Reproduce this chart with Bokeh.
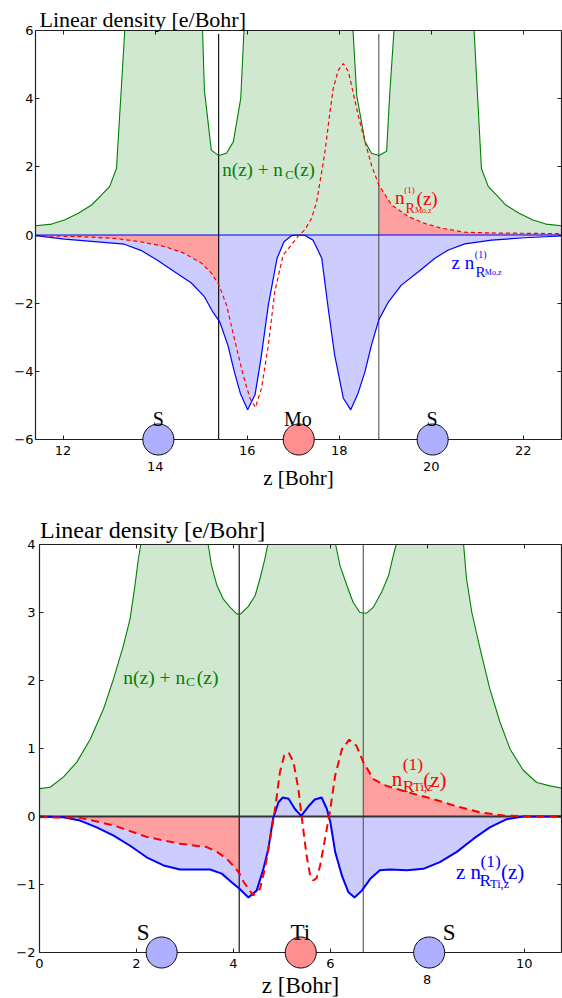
import numpy as np
from bokeh.plotting import figure
from bokeh.layouts import column
from bokeh.models import Label, PolyAnnotation, FixedTicker, LinearAxis, Range1d
from bokeh.embed import file_html
from bokeh.resources import INLINE

SERIF = "Liberation Serif"
SANS = "DejaVu Sans"

# ---------------- top panel (Mo) data ----------------
top_green_z = [11.40, 11.75, 12.03, 12.33, 12.62, 12.83, 13.01, 13.16, 13.34, 14.07, 15.03,
               15.07, 15.22, 15.38, 15.55, 15.70, 15.86, 15.93, 17.12, 18.30, 18.38, 18.56,
               18.70, 18.86, 19.03, 19.10, 19.19, 20.03, 20.93, 21.09, 21.24, 21.42, 21.62,
               21.91, 22.21, 22.49, 22.83]
top_green_v = [0.27, 0.32, 0.44, 0.64, 0.88, 1.17, 1.42, 1.95, 6.1, 12.0, 6.1,
               4.25, 2.49, 2.33, 2.40, 2.74, 4.01, 6.1, 12.0, 6.1, 4.10, 2.74,
               2.40, 2.33, 2.46, 4.20, 6.1, 12.0, 6.1, 1.95, 1.42, 1.17, 0.88,
               0.64, 0.44, 0.32, 0.27]

top_blue_z = [11.40, 12.03, 12.75, 13.33, 13.69, 14.05, 14.42, 14.78, 15.07, 15.25, 15.40,
              15.58, 15.72, 15.85, 16.01, 16.17, 16.30, 16.46, 16.65, 16.80, 16.96, 17.12,
              17.25, 17.43, 17.62, 17.76, 17.90, 18.09, 18.25, 18.41, 18.56, 18.70, 18.86,
              19.07, 19.35, 19.72, 20.08, 20.37, 20.73, 21.31, 22.03, 22.83]
top_blue_v = [-0.02, -0.12, -0.20, -0.27, -0.45, -0.74, -1.08, -1.40, -1.81, -2.25, -2.54,
              -3.23, -4.01, -4.64, -5.13, -4.69, -3.62, -2.05, -0.68, -0.20, -0.02, 0.0,
              -0.01, -0.15, -0.68, -2.15, -3.52, -4.79, -5.13, -4.64, -4.01, -3.23, -2.49,
              -1.96, -1.47, -1.08, -0.68, -0.44, -0.26, -0.15, -0.08, -0.03]

top_red_z = [11.40, 12.40, 13.12, 13.69, 14.21, 14.64, 15.01, 15.22, 15.38, 15.55, 15.72,
             15.91, 16.06, 16.18, 16.31, 16.46, 16.60, 16.78, 16.96, 17.13, 17.25, 17.40,
             17.51, 17.62, 17.69, 17.80, 17.87, 17.98, 18.09, 18.20, 18.30, 18.41, 18.56,
             18.70, 18.86, 19.14, 19.50, 19.86, 20.22, 20.73, 21.31, 22.83]
top_red_v = [-0.02, -0.05, -0.10, -0.20, -0.34, -0.54, -0.83, -1.12, -1.45, -2.05, -3.03,
             -4.10, -4.79, -5.06, -4.50, -3.23, -1.66, -0.59, -0.29, 0.0, 0.15, 0.49,
             0.98, 1.86, 2.44, 3.62, 4.30, 4.84, 5.03, 4.79, 4.20, 3.52, 2.74,
             2.05, 1.47, 0.88, 0.54, 0.34, 0.20, 0.08, 0.06, 0.04]

top_bounds = [15.38, 18.86]
top_atoms = ["S", "Mo", "S"]
top_atom_z = [14.07, 17.12, 20.03]
top_atom_label_z = [14.07, 17.10, 20.02]
top_xticks = [12, 14, 16, 18, 20, 22]
top_xticks_low = [14, 20]
top_yticks = [-6, -4, -2, 0, 2, 4, 6]

# ---------------- bottom panel (Ti) data ----------------
bot_green_z = [0.00, 0.22, 0.49, 0.77, 1.05, 1.32, 1.53, 1.73, 1.87, 1.97, 2.04, 2.09, 2.52,
               3.48, 3.55, 3.66, 3.79, 3.93, 4.07, 4.15, 4.31, 4.45, 4.55, 4.65, 4.71, 5.39,
               6.11, 6.20, 6.34, 6.47, 6.61, 6.75, 6.89, 7.06, 7.20, 7.30, 7.36, 8.04,
               8.75, 8.81, 8.92, 9.09, 9.29, 9.50, 9.71, 9.98, 10.26, 10.53, 10.77]
bot_green_v = [0.41, 0.43, 0.58, 0.80, 1.14, 1.58, 2.03, 2.51, 2.91, 3.40, 3.79, 4.10, 8.0,
               4.10, 3.69, 3.40, 3.20, 3.08, 2.98, 2.98, 3.09, 3.25, 3.50, 3.79, 4.10, 8.0,
               4.10, 3.69, 3.40, 3.15, 3.00, 2.99, 3.08, 3.30, 3.54, 3.84, 4.10, 8.0,
               4.10, 3.50, 3.00, 2.47, 1.88, 1.39, 0.99, 0.68, 0.50, 0.45, 0.42]

bot_blue_z = [0.00, 0.49, 0.84, 1.18, 1.53, 1.87, 2.21, 2.56, 2.90, 3.25, 3.52, 3.76, 3.97,
              4.12, 4.31, 4.48, 4.62, 4.72, 4.82, 4.93, 5.02, 5.14, 5.27, 5.40, 5.55, 5.68,
              5.82, 5.93, 6.00, 6.10, 6.24, 6.37, 6.50, 6.65, 6.82, 7.02, 7.23, 7.58, 7.92,
              8.26, 8.61, 8.95, 9.29, 9.64, 9.98, 10.77]
bot_blue_v = [0.0, -0.01, -0.06, -0.16, -0.28, -0.43, -0.60, -0.72, -0.78, -0.78, -0.78, -0.84, -0.97,
              -1.06, -1.19, -1.09, -0.77, -0.48, -0.03, 0.21, 0.28, 0.26, 0.11, 0.01, 0.15, 0.25,
              0.28, 0.11, -0.08, -0.52, -0.87, -1.11, -1.19, -1.09, -0.92, -0.79, -0.78, -0.79, -0.77,
              -0.67, -0.52, -0.33, -0.16, -0.04, 0.0, 0.0]

bot_red_z = [0.00, 0.84, 1.53, 2.21, 2.90, 3.45, 3.66, 3.86, 4.03, 4.12, 4.21, 4.41, 4.55,
             4.65, 4.76, 4.86, 4.96, 5.05, 5.14, 5.24, 5.34, 5.44, 5.51, 5.58, 5.65, 5.72,
             5.79, 5.89, 5.99, 6.10, 6.24, 6.39, 6.54, 6.68, 6.89, 7.16, 7.58, 8.06, 8.61,
             9.09, 9.64, 10.77]
bot_red_v = [-0.01, -0.02, -0.13, -0.30, -0.40, -0.45, -0.52, -0.62, -0.75, -0.83, -0.96, -1.16, -1.06,
             -0.77, -0.33, 0.11, 0.65, 0.90, 0.94, 0.80, 0.41, -0.18, -0.57, -0.85, -0.94, -0.90,
             -0.72, -0.33, 0.06, 0.60, 0.99, 1.13, 1.04, 0.80, 0.55, 0.45, 0.36, 0.27, 0.15,
             0.06, 0.01, 0.0]

bot_bounds = [4.12, 6.68]
bot_atoms = ["S", "Ti", "S"]
bot_atom_z = [2.52, 5.39, 8.04]
bot_atom_label_z = [2.14, 5.38, 8.45]
bot_xticks = [0, 2, 4, 6, 8, 10]
bot_xticks_low = [8]
bot_yticks = [-2, -1, 0, 1, 2, 3, 4]

GREEN, BLUE, RED = "#008000", "#0000ff", "#ff0000"
GREEN_F, BLUE_F, RED_F = "#d0e7d0", "#ccccff", "#ffa0a0"
ATOM_F = {"S": "#afafff", "Mo": "#ff8f8f", "Ti": "#ff8f8f"}


def style_axis(ax, standoff=3, labels=True):
    ax.major_tick_in = 4
    ax.major_tick_out = 0
    ax.minor_tick_in = 0
    ax.minor_tick_out = 0
    ax.axis_line_color = "#222222"
    ax.axis_line_width = 1.2
    ax.major_tick_line_color = "#222222"
    ax.major_label_text_font = SANS
    ax.major_label_text_line_height = 1.1
    if labels:
        ax.major_label_text_font_size = "13px"
        ax.major_label_text_color = "black"
        ax.major_label_standoff = standoff
    else:
        ax.major_label_text_font_size = "1px"
        ax.major_label_text_color = None
        ax.major_label_standoff = 0


def math_label(p, x, y, pieces, color):
    for dx, dy, txt, size in pieces:
        p.add_layout(Label(x=x, y=y, x_offset=dx, y_offset=-dy, text=txt,
                           text_font=SERIF, text_font_size=f"{size}px",
                           text_color=color, text_baseline="alphabetic",
                           text_align="left"))


def panel(height, xr, yr, vis_h, borders, gz, gv, bz, bv, rz, rv, bounds, atoms, atom_z,
          atom_lz, xticks, xlow, yticks, fs, lw, dash, zero_color, vtop,
          atom_fs, atom_dy, title_off, xlabel_standoff, ystandoff):
    left, right, top = borders
    sy = vis_h / (yr[1] - yr[0])
    yhi = yr[1] + top / sy
    ylow = yhi - height / sy
    sx = (562 - left - right) / (xr[1] - xr[0])
    xlo = xr[0] - left / sx
    xhi = xr[1] + right / sx
    p = figure(width=562, height=height, x_range=Range1d(xlo, xhi), y_range=Range1d(ylow, yhi),
               x_axis_type=None, y_axis_type=None, output_backend="svg",
               toolbar_location=None, min_border_left=0, min_border_right=0,
               min_border_top=0, min_border_bottom=0)
    p.outline_line_color = None
    p.background_fill_color = "white"
    p.border_fill_color = "white"

    xb = LinearAxis(ticker=FixedTicker(ticks=xticks), fixed_location=yr[0], bounds=xr,
                    major_label_overrides={t: ("\n%d" % t if t in xlow else "%d" % t) for t in xticks},
                    axis_label="z [Bohr]")
    style_axis(xb, standoff=3)
    xb.axis_label_text_font = SERIF
    xb.axis_label_text_font_size = f"{fs['axis']}px"
    xb.axis_label_text_font_style = "normal"
    xb.axis_label_text_color = "black"
    xb.axis_label_standoff = xlabel_standoff
    p.add_layout(xb, "below")

    yl = LinearAxis(ticker=FixedTicker(ticks=yticks), fixed_location=xr[0], bounds=yr,
                    major_label_overrides={t: str(t).replace("-", "\u2212") for t in yticks})
    style_axis(yl, standoff=ystandoff)
    p.add_layout(yl, "left")

    xt = LinearAxis(ticker=FixedTicker(ticks=xticks), fixed_location=yr[1], bounds=xr)
    style_axis(xt, labels=False)
    p.add_layout(xt, "above")
    yrt = LinearAxis(ticker=FixedTicker(ticks=yticks), fixed_location=xr[1], bounds=yr)
    style_axis(yrt, labels=False)
    p.add_layout(yrt, "right")

    # fills (clipped to the visible y-range)
    gclip = [min(v, yr[1]) for v in gv]
    p.varea(x=gz, y1=0, y2=gclip, fill_color=GREEN_F)
    p.varea(x=bz, y1=0, y2=bv, fill_color=BLUE_F)
    li = [i for i, z in enumerate(rz) if z <= bounds[0]]
    ri = [i for i, z in enumerate(rz) if z >= bounds[1]]
    p.varea(x=[rz[i] for i in li], y1=0, y2=[rv[i] for i in li], fill_color=RED_F)
    p.varea(x=[rz[i] for i in ri], y1=0, y2=[rv[i] for i in ri], fill_color=RED_F)

    # boundaries
    p.segment(x0=bounds, x1=bounds, y0=[yr[0]] * 2, y1=[vtop] * 2,
              line_color=["#000000", "#555555"], line_width=1.1)

    # curves
    p.line(gz, gclip, line_color=GREEN, line_width=1.1)
    p.segment(x0=[xr[0]], x1=[xr[1]], y0=[0], y1=[0], line_color=zero_color, line_width=lw)
    p.line(bz, bv, line_color=BLUE, line_width=lw)
    p.line(rz, rv, line_color=RED, line_width=lw, line_dash=dash)

    # atoms
    t = np.linspace(0, 2 * np.pi, 72)
    for name, az, alz in zip(atoms, atom_z, atom_lz):
        p.add_layout(PolyAnnotation(xs=list(az + 15.5 / sx * np.cos(t)),
                                    ys=list(yr[0] + 15.5 / sy * np.sin(t)),
                                    xs_units="data", ys_units="data",
                                    fill_color=ATOM_F[name], fill_alpha=1.0,
                                    line_color="black", line_width=1, line_alpha=1.0))
        p.add_layout(Label(x=alz, y=yr[0], y_offset=atom_dy, text=name, text_font=SERIF,
                           text_font_size=f"{atom_fs}px", text_color="black",
                           text_align="center", text_baseline="alphabetic"))

    p.add_layout(Label(x=xr[0], y=yr[1], x_offset=title_off[0], y_offset=title_off[1],
                       text="Linear density [e/Bohr]", text_font=SERIF,
                       text_font_size=f"{fs['title']}px", text_color="black",
                       text_baseline="alphabetic", text_align="left"))
    return p


p1 = panel(500, (11.40, 22.83), (-6, 6), 409, (35, 1, 30),
           top_green_z, top_green_v, top_blue_z, top_blue_v, top_red_z, top_red_v,
           top_bounds, top_atoms, top_atom_z, top_atom_label_z, top_xticks, top_xticks_low,
           top_yticks, {"axis": 21, "title": 22}, 1.2, "4 3", BLUE, 5.9,
           20, 21, (4, 11.5), -11, 2)
math_label(p1, 15.46, 1.91, [(0, 0, "n(z) + n", 19), (62.9, 5, "C", 12.5), (71.5, 0, "(z)", 19)], GREEN)
math_label(p1, 19.21, 1.09, [(0, 0, "n", 19), (9.4, -7.6, "(1)", 9), (21.7, 0.3, "(z)", 19),
                             (10.7, 10.6, "R", 14), (20, 12.3, "Mo,z", 8)], RED)
math_label(p1, 20.44, -0.80, [(0, 0, "z n", 19), (23.3, -7.3, "(1)", 10),
                              (24, 9.4, "R", 15), (33.3, 10.7, "Mo,z", 8)], BLUE)

p2 = panel(498, (0.0, 10.77), (-2, 4), 408, (39, 1, 44),
           bot_green_z, bot_green_v, bot_blue_z, bot_blue_v, bot_red_z, bot_red_v,
           bot_bounds, bot_atoms, bot_atom_z, bot_atom_label_z, bot_xticks, bot_xticks_low,
           bot_yticks, {"axis": 23, "title": 24}, 2, "8 5", "#333333", 4,
           23, 20, (0.5, 15), -17, 4)
math_label(p2, 1.73, 2.05, [(0, 0, "n(z) + n", 19.5), (62.7, 4.3, "C", 13.5), (73.4, 0, "(z)", 19.5)], GREEN)
math_label(p2, 7.266, 0.554, [(0, 0, "n", 21), (11, -14.7, "(1)", 17.5), (11, 6.7, "R", 17.5),
                              (21.6, 8.4, "Ti,z", 12.5), (31.6, 1, "(z)", 21)], RED)
math_label(p2, 8.592, -0.819, [(0, 0, "z n", 21), (24.5, -10.7, "(1)", 17.5), (23.5, 8.3, "R", 17.5),
                               (34, 11.6, "Ti,z", 12.5), (45, 0, "(z)", 21)], BLUE)

layout = column(p1, p2, spacing=0)
open("out.html", "w").write(file_html(layout, INLINE))
